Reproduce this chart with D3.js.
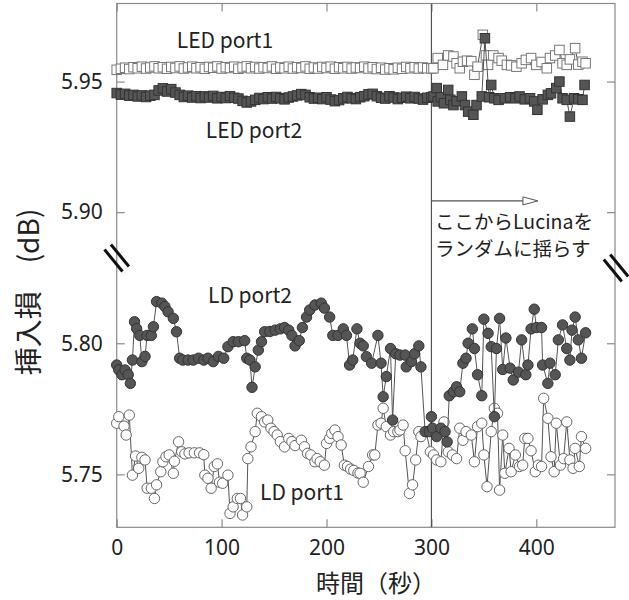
<!DOCTYPE html>
<html>
<head>
<meta charset="utf-8">
<script src="https://cdn.jsdelivr.net/npm/d3@7"></script>
<style>
  body { margin: 0; background: #fff; }
  svg { display: block; }
  text { font-family: "Noto Sans", "Noto Sans CJK JP", sans-serif; fill: #222; }
</style>
</head>
<body>
<svg id="chart" width="629" height="600"></svg>
<script>
// Axis ticks (seconds / dB)
const xTicks = [0, 100, 200, 300, 400];
const yTicks = [5.75, 5.80, 5.90, 5.95];

// LED port1 (open squares)
const ledPort1Time = [0,4,8,12,16,20,24,28,32,36,40,44,48,52,56,60,64,68,72,76,80,84,88,92,96,100,104,108,112,116,120,124,128,132,136,140,144,148,152,156,160,164,168,172,176,180,184,188,192,196,200,204,208,212,216,220,224,228,232,236,240,244,248,252,256,260,264,268,272,276,280,284,288,292,296,300,
  302,306,311,316,321,324,327,330,334,338,341,344,349,352,354,359,364,367,372,376,381,386,390,395,400,405,410,413,418,422,425,429,432,437,440,444,447];
const ledPort1Value = [5.9545,5.9549,5.9553,5.9548,5.9555,5.9551,5.9557,5.9550,5.9554,5.9558,
  5.9551,5.9555,5.9549,5.9556,5.9552,5.9558,5.9550,5.9554,5.9557,5.9551,
  5.9555,5.9549,5.9556,5.9553,5.9558,5.9550,5.9555,5.9552,5.9557,5.9549,
  5.9554,5.9558,5.9551,5.9556,5.9550,5.9555,5.9552,5.9558,5.9549,5.9554,
  5.9551,5.9557,5.9550,5.9555,5.9552,5.9558,5.9549,5.9554,5.9550,5.9556,
  5.9552,5.9557,5.9549,5.9555,5.9551,5.9556,5.9550,5.9554,5.9552,5.9557,
  5.9550,5.9555,5.9548,5.9553,5.9546,5.9551,5.9547,5.9553,5.9549,5.9556,
  5.9551,5.9555,5.9550,5.9554,5.9551,5.9550,
  5.9551,5.9590,5.9564,5.9600,5.9596,5.9570,5.9551,5.9576,5.9580,5.9578,5.9526,5.9557,5.9679,5.9600,5.9564,5.9600,5.9590,5.9580,5.9564,5.9562,5.9557,5.9570,5.9583,5.9590,5.9564,5.9575,5.9551,5.9590,5.9600,5.9621,5.9570,5.9564,5.9585,5.9628,5.9565,5.9576,5.9570];

// LED port2 (filled squares)
const ledPort2Time = [0,4,8,12,16,20,24,28,32,36,40,44,48,52,56,60,64,68,72,76,80,84,88,92,96,100,104,108,112,116,120,124,128,132,136,140,144,148,152,156,160,164,168,172,176,180,184,188,192,196,200,204,208,212,216,220,224,228,232,236,240,244,248,252,256,260,264,268,272,276,280,284,288,292,296,300,
  302,305,306,309,312,316,318,321,324,329,332,335,340,343,348,351,355,357,360,364,370,375,380,384,389,394,398,401,406,411,414,419,422,425,429,432,436,440,444,446];
const ledPort2Value = [5.9456,5.9450,5.9453,5.9446,5.9449,5.9443,5.9447,5.9441,5.9446,5.9449,
  5.9466,5.9474,5.9462,5.9471,5.9458,5.9449,5.9441,5.9446,5.9439,5.9444,
  5.9437,5.9443,5.9439,5.9445,5.9436,5.9441,5.9437,5.9444,5.9438,5.9435,
  5.9426,5.9420,5.9424,5.9430,5.9437,5.9433,5.9440,5.9435,5.9441,5.9436,
  5.9432,5.9439,5.9443,5.9447,5.9452,5.9449,5.9440,5.9435,5.9438,5.9433,
  5.9440,5.9431,5.9425,5.9429,5.9436,5.9441,5.9436,5.9433,5.9440,5.9444,
  5.9451,5.9453,5.9444,5.9438,5.9435,5.9444,5.9439,5.9433,5.9438,5.9442,
  5.9436,5.9441,5.9435,5.9431,5.9438,5.9440,
  5.9443,5.9475,5.9424,5.9440,5.9417,5.9468,5.9430,5.9410,5.9425,5.9443,5.9410,5.9385,5.9373,5.9410,5.9443,5.9666,5.9440,5.9487,5.9436,5.9430,5.9436,5.9440,5.9436,5.9443,5.9432,5.9436,5.9424,5.9392,5.9432,5.9449,5.9455,5.9475,5.9500,5.9436,5.9430,5.9366,5.9436,5.9432,5.9430,5.9487];

// LD port2 (filled circles)
const ldPort2Time = [0,2,5,8,11,13,15,17,19,22,24,27,29,33,35,38,43,46,49,54,57,60,63,68,73,78,83,87,92,97,102,106,111,116,122,124,127,129,132,135,138,141,146,151,156,160,164,167,170,174,177,181,184,189,195,198,203,206,211,216,219,222,225,229,232,235,238,243,249,252,254,257,261,263,266,270,275,276,281,284,288,290,294,298,300,301,305,309,313,315,317,321,324,327,330,333,335,339,341,344,348,350,354,357,360,362,365,368,371,375,378,383,386,390,392,395,398,400,405,406,411,413,418,421,425,429,432,434,437,440,443,447];
const ldPort2Value = [5.7917,5.7898,5.7880,5.7898,5.7880,5.7847,5.7936,5.8082,5.8056,5.8030,5.7930,5.7950,5.8030,5.8030,5.8063,5.8159,5.8153,5.8140,5.8120,5.8095,5.8044,5.7943,5.7936,5.7936,5.7936,5.7943,5.7936,5.7943,5.7930,5.7950,5.7943,5.7987,5.8006,5.8006,5.8010,5.7943,5.7936,5.7832,5.7910,5.7974,5.8006,5.8044,5.8045,5.8050,5.8055,5.8060,5.8050,5.8030,5.7990,5.8010,5.8060,5.8100,5.8127,5.8146,5.8153,5.8134,5.8100,5.8030,5.8030,5.8055,5.8030,5.7917,5.7936,5.8055,5.8000,5.7990,5.7949,5.7924,5.8030,5.7924,5.7796,5.7873,5.7980,5.7707,5.7960,5.7955,5.7955,5.7910,5.7930,5.7960,5.7990,5.7910,5.7663,5.7663,5.7720,5.7676,5.7644,5.7676,5.7663,5.7624,5.7800,5.7815,5.7834,5.7815,5.7924,5.7943,5.8000,5.8055,5.7980,5.7880,5.7800,5.8092,5.8038,5.7987,5.7720,5.7980,5.8095,5.7900,5.8020,5.7905,5.7860,5.7890,5.8013,5.7880,5.7917,5.8055,5.8130,5.8060,5.8060,5.7917,5.7847,5.7924,5.7880,5.8013,5.8070,5.7980,5.7936,5.8050,5.8100,5.8013,5.7943,5.8040];

// LD port1 (open circles)
const ldPort1Time = [0,2,7,9,12,15,18,21,24,27,29,33,36,38,42,44,47,50,54,55,59,62,65,69,74,79,83,84,87,90,93,96,98,101,106,108,111,115,118,120,124,125,128,132,134,138,141,144,147,150,153,156,160,164,167,170,176,179,182,185,189,191,194,198,200,203,205,208,211,214,217,220,223,226,230,232,235,240,244,246,249,252,254,257,261,264,268,270,273,275,279,282,285,288,290,295,299,302,305,309,312,316,320,324,327,330,333,338,341,344,348,350,353,357,360,363,365,368,370,374,376,380,384,387,389,392,395,399,402,405,407,411,414,417,419,423,426,429,432,435,437,441,443,447];
const ldPort1Value = [5.7695,5.7720,5.7684,5.7650,5.7726,5.7497,5.7570,5.7523,5.7565,5.7555,5.7447,5.7447,5.7408,5.7460,5.7510,5.7548,5.7567,5.7574,5.7504,5.7550,5.7624,5.7586,5.7578,5.7582,5.7582,5.7582,5.7575,5.7497,5.7485,5.7447,5.7530,5.7540,5.7470,5.7466,5.7497,5.7351,5.7376,5.7408,5.7408,5.7345,5.7376,5.7560,5.7605,5.7663,5.7733,5.7720,5.7700,5.7707,5.7676,5.7663,5.7650,5.7625,5.7605,5.7637,5.7625,5.7610,5.7630,5.7605,5.7580,5.7574,5.7548,5.7560,5.7548,5.7535,5.7618,5.7637,5.7656,5.7669,5.7644,5.7612,5.7535,5.7530,5.7520,5.7515,5.7505,5.7504,5.7470,5.7530,5.7574,5.7574,5.7688,5.7695,5.7752,5.7682,5.7650,5.7663,5.7663,5.7669,5.7688,5.7590,5.7427,5.7460,5.7555,5.7663,5.7644,5.7663,5.7586,5.7574,5.7555,5.7548,5.7700,5.7586,5.7574,5.7560,5.7676,5.7630,5.7663,5.7650,5.7548,5.7682,5.7695,5.7574,5.7453,5.7663,5.7752,5.7733,5.7440,5.7650,5.7504,5.7599,5.7510,5.7574,5.7530,5.7535,5.7637,5.7637,5.7590,5.7510,5.7535,5.7530,5.7790,5.7714,5.7567,5.7510,5.7695,5.7535,5.7560,5.7700,5.7555,5.7523,5.7599,5.7530,5.7644,5.7599];

const svg = d3.select("#chart");
const plotLeft = 116.7, plotRight = 615, plotTop = 3.5, plotBottom = 527.3, breakY = 262;

const x = d3.scaleLinear().domain([0, 475]).range([plotLeft, plotRight]);
// Broken value axis: 5.831–5.881 is collapsed onto the break line
const y = d3.scaleLinear()
  .domain([5.7298, 5.831, 5.8809, 5.9799])
  .range([plotBottom, breakY, breakY, plotTop]);

const zip = (ts, vs) => ts.map((t, i) => ({ t, v: vs[i] }));
const ledP1 = zip(ledPort1Time, ledPort1Value);
const ledP2 = zip(ledPort2Time, ledPort2Value);
const ldP1 = zip(ldPort1Time, ldPort1Value);
const ldP2 = zip(ldPort2Time, ldPort2Value);

const frameColor = "#8a8a8a";

// Frame
svg.append("rect")
  .attr("x", plotLeft).attr("y", plotTop)
  .attr("width", plotRight - plotLeft).attr("height", plotBottom - plotTop)
  .attr("fill", "none").attr("stroke", frameColor).attr("stroke-width", 1.2);

// Axes with inward ticks
const fmtY = d3.format(".2f");
const axB = svg.append("g").attr("transform", `translate(0,${plotBottom})`)
  .call(d3.axisBottom(x).tickValues(xTicks).tickSizeInner(-8).tickSizeOuter(0).tickPadding(13));
const axT = svg.append("g").attr("transform", `translate(0,${plotTop})`)
  .call(d3.axisTop(x).tickValues(xTicks).tickSizeInner(-8).tickSizeOuter(0).tickFormat(""));
const axL = svg.append("g").attr("transform", `translate(${plotLeft},0)`)
  .call(d3.axisLeft(y).tickValues(yTicks).tickSizeInner(-8).tickSizeOuter(0).tickPadding(14).tickFormat(fmtY));
const axR = svg.append("g").attr("transform", `translate(${plotRight},0)`)
  .call(d3.axisRight(y).tickValues(yTicks).tickSizeInner(-8).tickSizeOuter(0).tickFormat(""));
[axB, axT, axL, axR].forEach(g => {
  g.select(".domain").remove();
  g.selectAll("line").attr("stroke", frameColor).attr("stroke-width", 1.2);
  g.selectAll("text").attr("font-size", 21).attr("fill", "#222")
    .style("font-family", '"Noto Sans", sans-serif');
});

// Start of the random shaking (t = 300 s)
svg.append("line")
  .attr("x1", x(300)).attr("x2", x(300)).attr("y1", plotTop).attr("y2", plotBottom)
  .attr("stroke", "#555").attr("stroke-width", 1.2);

// Series: line + markers
const lineGen = d3.line().x(d => x(d.t)).y(d => y(d.v));
const lineColor = "#555";
const darkFill = "#555", darkStroke = "#333";

function drawLine(data) {
  svg.append("path").datum(data)
    .attr("d", lineGen).attr("fill", "none")
    .attr("stroke", lineColor).attr("stroke-width", 1);
}
function drawCircles(data, fill, stroke) {
  svg.append("g").selectAll("circle").data(data).join("circle")
    .attr("cx", d => x(d.t)).attr("cy", d => y(d.v)).attr("r", 5.2)
    .attr("fill", fill).attr("stroke", stroke).attr("stroke-width", 1);
}
function drawSquares(data, fill, stroke) {
  const s = 9.5;
  svg.append("g").selectAll("rect").data(data).join("rect")
    .attr("x", d => x(d.t) - s / 2).attr("y", d => y(d.v) - s / 2)
    .attr("width", s).attr("height", s)
    .attr("fill", fill).attr("stroke", stroke).attr("stroke-width", 1);
}

drawLine(ldP1); drawCircles(ldP1, "#fff", "#666");
drawLine(ldP2); drawCircles(ldP2, darkFill, darkStroke);
drawLine(ledP1); drawSquares(ledP1, "#fff", "#777");
drawLine(ledP2); drawSquares(ledP2, darkFill, darkStroke);

// Axis break marks
function breakMark(cx, cy) {
  [-3.2, 3.2].forEach(o => {
    svg.append("line")
      .attr("x1", cx - 9 + o).attr("y1", cy - 11 - o * 0.8)
      .attr("x2", cx + 9 + o).attr("y2", cy + 11 - o * 0.8)
      .attr("stroke", "#111").attr("stroke-width", 3);
  });
}
breakMark(plotLeft, 258);
breakMark(plotRight + 1, 268);

// Arrow from t = 300 s
const arrowY = y(5.9043);
const arrowEnd = x(401.5);
svg.append("line")
  .attr("x1", x(300)).attr("x2", arrowEnd - 15).attr("y1", arrowY).attr("y2", arrowY)
  .attr("stroke", "#555").attr("stroke-width", 1.2);
svg.append("path")
  .attr("d", `M${arrowEnd - 15},${arrowY - 4} L${arrowEnd},${arrowY} L${arrowEnd - 15},${arrowY + 4} Z`)
  .attr("fill", "#fff").attr("stroke", "#555").attr("stroke-width", 1);

// Annotations
const jp = '"Noto Sans CJK JP", "Noto Sans", sans-serif';
svg.append("text").attr("x", 435).attr("y", 229).attr("font-size", 19.5)
  .style("font-family", jp).text("ここからLucinaを");
svg.append("text").attr("x", 435).attr("y", 256).attr("font-size", 19.5)
  .style("font-family", jp).text("ランダムに揺らす");

const seriesLabels = [
  { text: "LED port1", cx: 225, by: 48 },
  { text: "LED port2", cx: 254, by: 138 },
  { text: "LD port2", cx: 250, by: 303 },
  { text: "LD port1", cx: 302, by: 500 }
];
svg.append("g").selectAll("text").data(seriesLabels).join("text")
  .attr("x", d => d.cx).attr("y", d => d.by)
  .attr("text-anchor", "middle").attr("font-size", 21)
  .style("font-family", jp).text(d => d.text);

// Axis titles
svg.append("text").attr("x", 316).attr("y", 592).attr("font-size", 24)
  .style("font-family", jp).text("時間（秒）");
svg.append("text")
  .attr("transform", "translate(27,292) rotate(-90)")
  .attr("text-anchor", "middle").attr("dominant-baseline", "central")
  .attr("font-size", 28).style("font-family", jp).text("挿入損\u3000(dB)");
</script>
</body>
</html>
